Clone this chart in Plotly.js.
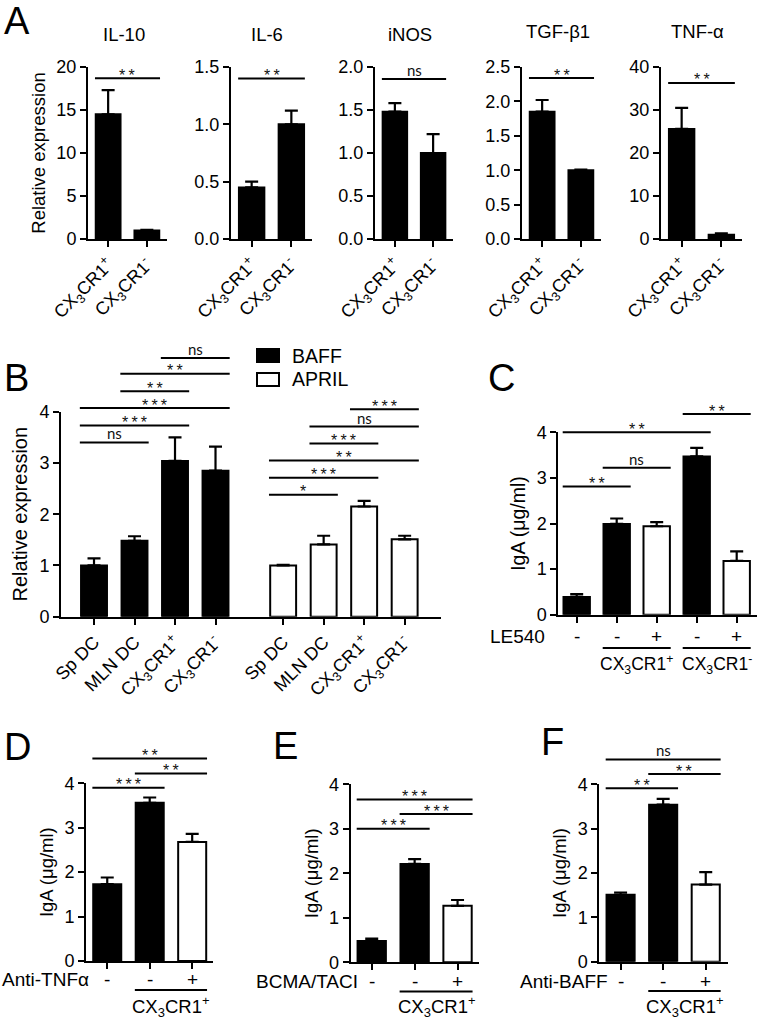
<!DOCTYPE html>
<html><head><meta charset="utf-8">
<script src="https://cdn.plot.ly/plotly-3.0.1.min.js"></script>
<style>html,body{margin:0;padding:0;background:#fff}#chart{width:763px;height:1020px}</style>
</head><body><div id="chart"></div>
<script>
// ---------------- DATA ----------------
// Panel A
const aGenes = ['IL-10', 'IL-6', 'iNOS', 'TGF-β1', 'TNF-α'];
const aGroups = ['CX<sub>3</sub>CR1<sup>+</sup>', 'CX<sub>3</sub>CR1<sup>-</sup>'];
const aIL10 = [14.5, 1.0], aIL10Err = [2.8, 0.05];
const aIL6 = [0.45, 1.0], aIL6Err = [0.05, 0.12];
const aINOS = [1.48, 1.0], aINOSErr = [0.10, 0.22];
const aTGF = [1.85, 1.0], aTGFErr = [0.17, 0.01];
const aTNF = [25.6, 1.0], aTNFErr = [4.9, 0.3];
const aYMax = [20, 1.5, 2, 2.5, 40];
const aYStep = [5, 0.5, 0.5, 0.5, 10];
const aSigY = [18.7, 1.40, 1.86, 2.34, 36.3];
const aSigLabel = ['**', '**', 'ns', '**', '**'];

// Panel B
const bCats = ['Sp DC', 'MLN DC', 'CX<sub>3</sub>CR1<sup>+</sup>', 'CX<sub>3</sub>CR1<sup>-</sup>'];
const bSeries = ['BAFF', 'APRIL'];
const bBaff = [1.0, 1.48, 3.04, 2.85];
const bBaffErr = [0.14, 0.09, 0.46, 0.47];
const bApril = [1.0, 1.41, 2.15, 1.51];
const bAprilErr = [0.01, 0.17, 0.11, 0.07];
const bBaffSig = [[0,1,3.40,'ns'],[0,2,3.73,'***'],[0,3,4.07,'***'],[1,2,4.40,'**'],[1,3,4.74,'**'],[2,3,5.05,'ns']];
const bAprilSig = [[0,1,2.38,'*'],[0,2,2.71,'***'],[0,3,3.05,'**'],[1,2,3.38,'***'],[1,3,3.71,'ns'],[2,3,4.05,'***']];

// Panel C
const cTreatName = 'LE540';
const cTreat = ['-', '-', '+', '-', '+'];
const cMeans = [0.39, 1.99, 1.94, 3.47, 1.18];
const cErrs = [0.06, 0.12, 0.09, 0.19, 0.21];
const cFill = ['black', 'black', 'white', 'black', 'white'];
const cSig = [[0,1,2.81,'**'],[1,2,3.22,'ns'],[0,3,4.0,'**'],[3,4,4.40,'**']];
const cGroups = [[1,2,'CX<sub>3</sub>CR1<sup>+</sup>'],[3,4,'CX<sub>3</sub>CR1<sup>-</sup>']];

// Panel D
const dTreatName = 'Anti-TNFα';
const dTreat = ['-', '-', '+'];
const dMeans = [1.73, 3.56, 2.68];
const dErrs = [0.15, 0.12, 0.18];
const dSig = [[0,1,3.90,'***'],[1,2,4.22,'**'],[0,2,4.56,'**']];

// Panel E
const eTreatName = 'BCMA/TACI';
const eTreat = ['-', '-', '+'];
const eMeans = [0.48, 2.21, 1.27];
const eErrs = [0.05, 0.11, 0.13];
const eSig = [[0,1,3.00,'***'],[1,2,3.33,'***'],[0,2,3.66,'***']];

// Panel F
const fTreatName = 'Anti-BAFF';
const fTreat = ['-', '-', '+'];
const fMeans = [1.51, 3.54, 1.74];
const fErrs = [0.05, 0.13, 0.28];
const fSig = [[0,1,3.91,'**'],[1,2,4.23,'**'],[0,2,4.56,'ns']];

const defgFill = ['black', 'black', 'white'];
const defgGroup = [[1,2,'CX<sub>3</sub>CR1<sup>+</sup>']];

// ---------------- LAYOUT HELPERS ----------------
const W = 763, H = 1020;
const FONT = 'Liberation Sans, Arial, Helvetica, sans-serif';
const NSFONT = 'Lato, Open Sans, sans-serif';
const traces = [], shapes = [], annotations = [];
const layout = {
  width: W, height: H, margin: {l:0, r:0, t:0, b:0},
  paper_bgcolor: 'white', plot_bgcolor: 'rgba(0,0,0,0)', showlegend: false,
  font: {family: FONT, color: 'black', size: 18}
};
const panels = {};
const sfx = n => (n === 1 ? '' : String(n));

function addAxes(n, box, xr, ymax, ystep, yfmt, ytitle, tickvals, ticktext, ytSize) {
  const xd = [box[0] / W, box[1] / W], yd = [1 - box[3] / H, 1 - box[2] / H];
  const common = {showline: true, linewidth: 2, linecolor: 'black', ticks: 'outside', ticklen: 6,
    tickwidth: 2, tickcolor: 'black', showgrid: false, zeroline: false, fixedrange: true};
  layout['xaxis' + sfx(n)] = Object.assign({}, common, {
    domain: xd, anchor: 'y' + sfx(n), range: xr, tickmode: 'array', tickvals: tickvals,
    ticktext: ticktext || tickvals.map(() => ' '), showticklabels: !!ticktext,
    tickangle: -45, tickfont: {size: 18, family: FONT}
  });
  const ya = Object.assign({}, common, {
    domain: yd, anchor: 'x' + sfx(n), range: [0, ymax], tickmode: 'linear', tick0: 0, dtick: ystep,
    tickformat: yfmt, tickfont: {size: 18, family: FONT}
  });
  if (ytitle) ya.title = {text: ytitle, font: {size: ytSize || 19, family: FONT}, standoff: 6};
  layout['yaxis' + sfx(n)] = ya;
  panels[n] = {xd, yd, xr, ymax};
}
function px(n, xv) { const p = panels[n]; return p.xd[0] + (xv - p.xr[0]) / (p.xr[1] - p.xr[0]) * (p.xd[1] - p.xd[0]); }
function py(n, yv) { const p = panels[n]; return p.yd[0] + yv / p.ymax * (p.yd[1] - p.yd[0]); }
function addBars(n, xs, ys, errs, fills, width) {
  traces.push({type: 'bar', x: xs, y: ys, width: width, xaxis: 'x' + sfx(n), yaxis: 'y' + sfx(n),
    marker: {color: fills, line: {color: 'black', width: 2}},
    error_y: {type: 'data', symmetric: false, array: errs, arrayminus: errs.map(() => 0),
      color: 'black', thickness: 2.2, width: 6.5},
    hoverinfo: 'skip'});
}
function text(xp, ypx, t, size, xanchor, extra) {
  annotations.push(Object.assign({xref: 'paper', yref: 'paper', x: xp, y: 1 - ypx / H, text: t,
    showarrow: false, xanchor: xanchor || 'center', yanchor: 'middle',
    font: {family: FONT, size: size, color: 'black'}}, extra || {}));
}
function hline(x0, x1, y) {
  shapes.push({type: 'line', xref: 'paper', yref: 'paper', x0: x0, x1: x1, y0: y, y1: y,
    line: {color: 'black', width: 2}});
}
function addSig(n, xs, halfW, sigs) {
  sigs.forEach(([i, j, yv, lab]) => {
    const x0 = px(n, xs[i] - halfW), x1 = px(n, xs[j] + halfW), y = py(n, yv);
    hline(x0, x1, y);
    const isNs = lab === 'ns';
    annotations.push({xref: 'paper', yref: 'paper', x: (x0 + x1) / 2, y: y,
      text: isNs ? 'ns' : lab.split('').join('\u2009'), showarrow: false,
      xanchor: 'center', yanchor: 'middle', yshift: isNs ? 9 : 3,
      font: {family: isNs ? NSFONT : FONT, size: isNs ? 15 : 16, color: '#111'}});
  });
}
function addTreatRow(n, xs, treat, name, nameRight, ypx, groups, halfW, lineY, groupY, gSize) {
  text(nameRight / W, ypx, name, 19, 'right');
  treat.forEach((t, i) => text(px(n, xs[i]), ypx, t, 19, 'center'));
  groups.forEach(([i, j, lab]) => {
    const x0 = px(n, xs[i] - halfW), x1 = px(n, xs[j] + halfW);
    hline(x0, x1, 1 - lineY / H);
    text((x0 + x1) / 2, groupY, lab, gSize || 18.5, 'center');
  });
}

// ---------------- PANEL A ----------------
const aBoxes = [[88,167],[231,312],[375,453],[522,601],[661,742]];
const aMeans = [aIL10, aIL6, aINOS, aTGF, aTNF];
const aErrs = [aIL10Err, aIL6Err, aINOSErr, aTGFErr, aTNFErr];
const aX = aGroups.map((_, i) => i);
const aTitleY = [35, 35, 35, 31, 31];
aGenes.forEach((g, k) => {
  const n = k + 1;
  addAxes(n, [aBoxes[k][0], aBoxes[k][1], 67, 239], [-0.52, 1.52], aYMax[k], aYStep[k],
    aYStep[k] < 1 ? '.1f' : '', k === 0 ? 'Relative expression' : null, aX, aGroups, 18.5);
  addBars(n, aX, aMeans[k], aErrs[k], ['black', 'black'], 0.64);
  addSig(n, aX, 0.34, [[0, 1, aSigY[k], aSigLabel[k]]]);
  text(panels[n].xd[0] + 0.45 * (panels[n].xd[1] - panels[n].xd[0]), aTitleY[k], g, 18.5, 'center');
});

// ---------------- PANEL B ----------------
const bXBaff = bCats.map((_, i) => i);
const bXApril = bCats.map((_, i) => i + 4.67);
addAxes(6, [61, 440.7, 411.7, 616.7], [-0.815, 8.56], 4, 1, '', 'Relative expression',
  bXBaff.concat(bXApril), bCats.concat(bCats), 20);
addBars(6, bXBaff, bBaff, bBaffErr, bBaff.map(() => 'black'), 0.64);
addBars(6, bXApril, bApril, bAprilErr, bApril.map(() => 'white'), 0.64);
addSig(6, bXBaff, 0.35, bBaffSig);
addSig(6, bXApril, 0.35, bAprilSig);
// legend
[['black', 349, 356], ['white', 373, 379]].forEach(([c, top, ty], i) => {
  shapes.push({type: 'rect', xref: 'paper', yref: 'paper', x0: 257 / W, x1: 279 / W,
    y0: 1 - (top + 13) / H, y1: 1 - top / H, fillcolor: c, line: {color: 'black', width: 2}});
  text(290 / W, ty, bSeries[i], 19.5, 'left');
});

// ---------------- PANEL C ----------------
const cX = cMeans.map((_, i) => i);
addAxes(7, [558.3, 756.7, 432.3, 614.7], [-0.46, 4.5], 4, 1, '', 'IgA (μg/ml)', cX, null, 19.5);
addBars(7, cX, cMeans, cErrs, cFill, 0.66);
addSig(7, cX, 0.35, cSig);
addTreatRow(7, cX, cTreat, cTreatName, 547, 636, cGroups, 0.35, 648, 664, 17.5);

// ---------------- PANELS D, E, F ----------------
const dX = dMeans.map((_, i) => i);
addAxes(8, [86, 213, 783.3, 961], [-0.5, 2.49], 4, 1, '', 'IgA (μg/ml)', dX, null, 18.5);
addBars(8, dX, dMeans, dErrs, defgFill, 0.66);
addSig(8, dX, 0.35, dSig);
addTreatRow(8, dX, dTreat, dTreatName, 91, 979, defgGroup, 0.35, 990, 1006);

addAxes(9, [350.7, 479, 784.3, 962.3], [-0.49, 2.5], 4, 1, '', 'IgA (μg/ml)', dX, null, 18.5);
addBars(9, dX, eMeans, eErrs, defgFill, 0.66);
addSig(9, dX, 0.35, eSig);
addTreatRow(9, dX, eTreat, eTreatName, 360, 981, defgGroup, 0.35, 991.5, 1006);

addAxes(10, [599.3, 728.3, 784.3, 961.7], [-0.5, 2.53], 4, 1, '', 'IgA (μg/ml)', dX, null, 18.5);
addBars(10, dX, fMeans, fErrs, defgFill, 0.66);
addSig(10, dX, 0.35, fSig);
addTreatRow(10, dX, fTreat, fTreatName, 610, 981.5, defgGroup, 0.35, 991, 1006);

// ---------------- PANEL LETTERS ----------------
[['A', 17, 21], ['B', 16, 378], ['C', 501, 378], ['D', 17, 747], ['E', 285, 746], ['F', 552, 742]]
  .forEach(([l, x, y]) => text(x / W, y, l, 38, 'center'));

layout.shapes = shapes;
layout.annotations = annotations;
Plotly.newPlot('chart', traces, layout, {staticPlot: true, displayModeBar: false});
</script>
</body></html>
